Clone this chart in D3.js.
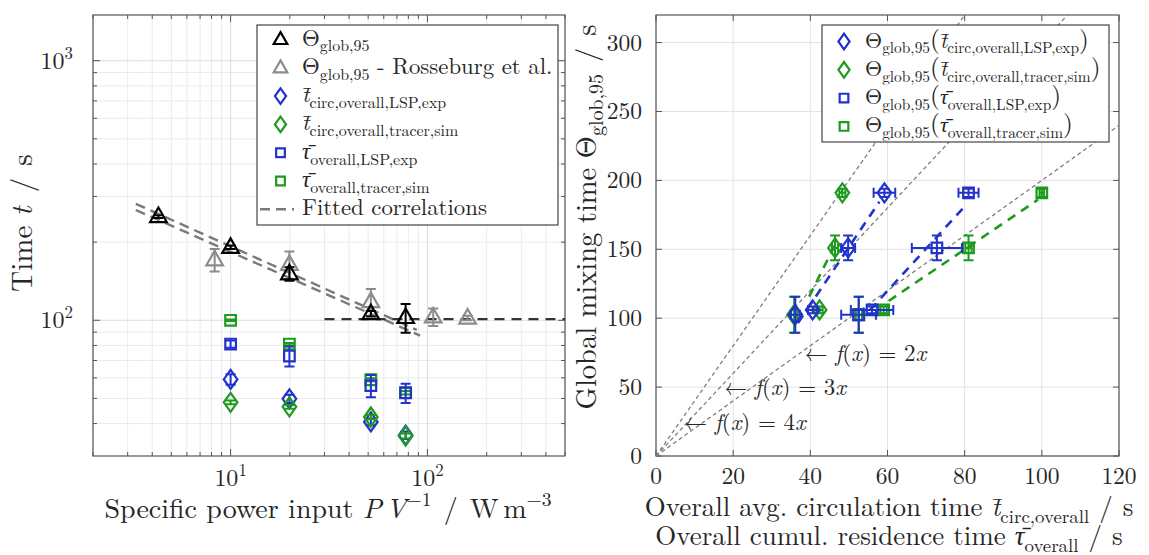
<!DOCTYPE html>
<html>
<head>
<meta charset="utf-8">
<script src="https://cdn.jsdelivr.net/npm/d3@7"></script>
<style>
  body { margin: 0; background: #fff; }
  svg text { font-family: "Latin Modern Roman", "Liberation Serif", serif; fill: #262626; }
</style>
</head>
<body>
<svg id="chart" width="1149" height="555"></svg>
<script>
// ---- data ----
// left panel: mixing / circulation / residence times vs specific power input
var powerInput = [4.3, 10, 19.9, 51.6, 77.5];          // W m^-3
var thetaGlob  = [251, 191, 151, 106, 102.5];          // s
var thetaErr   = [3, 3, 9, 2.5, 13];
var rossPower  = [8.3, 19.9, 51.6, 107, 160];
var rossTheta  = [171, 164, 118, 103, 102];
var rossErr    = [17, 20, 14, 8, 2];
// the following have no value at the first power input
var tCircLSP      = [null, 59.2, 49.8, 40.6, 36.1];
var tCircLSPErr   = [null, 2.8, 1.8, 1.2, 1.2];
var tCircTracer   = [null, 48.3, 46.4, 42.4, 35.8];
var tCircTracerErr= [null, 0.8, 0.8, 0.8, 0.8];
var tauLSP        = [null, 81, 72.8, 56, 52.5];
var tauLSPErr     = [null, 2.6, 6.5, 5.5, 4.5];
var tauTracer     = [null, 100, 81, 59, 52.6];
var tauTracerErr  = [null, 0.6, 0.8, 0.8, 0.8];

// fitted correlations, left panel (end points, straight in log-log)
var fitUpperP = [3.3, 88.3],  fitUpperT = [281, 91.8];
var fitLowerP = [3.3, 91.8],  fitLowerT = [266, 87.3];
var plateauP  = [30, 500],    plateauT  = [101, 101];

// right panel: fitted dashed lines (end points)
var fitTcLSP      = [[36.8, 96.5], [57.9, 184.5]];
var fitTcTracer   = [[39.7, 115.7], [46.6, 154.3]];
var fitTauLSP     = [[55.5, 106], [80.3, 182]];
var fitTauTracer  = [[60.3, 112.5], [99, 186]];
var refSlopes     = [2, 3, 4];
var refLabelY     = [75, 50, 25];

// ticks
var xTicksL = [10, 100];
var yTicksL = [100, 1000];
var xTicksR = [0, 20, 40, 60, 80, 100, 120];
var yTicksR = [0, 50, 100, 150, 200, 250, 300];

// ---- set-up ----
var svg = d3.select('#chart');
svg.append('rect').attr('width', 1149).attr('height', 555).attr('fill', '#fff');

var blue = '#2233cc', green = '#1e9a1e', gray = '#8c8c8c', black = '#000';
var axisCol = '#555';
var TBAR = 't\u0304', TAUBAR = '\u03C4\u0304';

var L = {x0: 93, x1: 565, y0: 15, y1: 456};
var R = {x0: 656, x1: 1119, y0: 15, y1: 456};

var xL = d3.scaleLog().domain([2, 500]).range([L.x0, L.x1]);
var yL = d3.scaleLog().domain([30, 1500]).range([L.y1, L.y0]);
var xR = d3.scaleLinear().domain([0, 120]).range([R.x0, R.x1]);
var yR = d3.scaleLinear().domain([0, 320]).range([R.y1, R.y0]);

// rich text: parts with italic / sub / sup
function rich(sel, parts, fs) {
  var shift = 0;
  parts.forEach(function(p) {
    var target = p.sub ? 0.26 * fs : (p.sup ? -0.42 * fs : 0);
    var ts = sel.append('tspan').text(p.t).attr('dy', target - shift);
    shift = target;
    if (p.sub || p.sup) ts.attr('font-size', 0.7 * fs);
    if (p.i) ts.attr('font-style', 'italic');
    if (p.big) ts.attr('font-size', p.big * fs);
    if (p.dx) ts.attr('dx', p.dx);
  });
  return sel;
}

function markerPath(type, cx, cy, s) {
  if (type === 'tri')
    return 'M' + cx + ',' + (cy - 9 * s) + 'L' + (cx + 8.3 * s) + ',' + (cy + 5.5 * s) +
           'L' + (cx - 8.3 * s) + ',' + (cy + 5.5 * s) + 'Z';
  if (type === 'dia')
    return 'M' + cx + ',' + (cy - 9.5 * s) + 'L' + (cx + 6.8 * s) + ',' + cy +
           'L' + cx + ',' + (cy + 9.5 * s) + 'L' + (cx - 6.8 * s) + ',' + cy + 'Z';
  return 'M' + (cx - 5.3 * s) + ',' + (cy - 5.3 * s) + 'h' + (10.6 * s) + 'v' + (10.6 * s) +
         'h' + (-10.6 * s) + 'Z';
}

// ---- left panel ----
var gl = svg.append('g');
var minorX = [], minorY = [];
[1, 10, 100].forEach(function(d) {
  for (var k = 2; k <= 9; k++) {
    var v = k * d;
    if (v >= 2 && v <= 500) minorX.push(v);
  }
});
[10, 100, 1000].forEach(function(d) {
  for (var k = 2; k <= 9; k++) {
    var v = k * d;
    if (v > 30 && v < 1500) minorY.push(v);
  }
});

gl.selectAll('.gxm').data(minorX).enter().append('line')
  .attr('x1', xL).attr('x2', xL).attr('y1', L.y0).attr('y2', L.y1)
  .attr('stroke', '#ebebeb').attr('stroke-width', 1);
gl.selectAll('.gym').data(minorY).enter().append('line')
  .attr('y1', yL).attr('y2', yL).attr('x1', L.x0).attr('x2', L.x1)
  .attr('stroke', '#ebebeb').attr('stroke-width', 1);
gl.selectAll('.gx').data(xTicksL).enter().append('line')
  .attr('x1', xL).attr('x2', xL).attr('y1', L.y0).attr('y2', L.y1)
  .attr('stroke', '#dcdcdc').attr('stroke-width', 1);
gl.selectAll('.gy').data(yTicksL).enter().append('line')
  .attr('y1', yL).attr('y2', yL).attr('x1', L.x0).attr('x2', L.x1)
  .attr('stroke', '#dcdcdc').attr('stroke-width', 1);

// inward ticks on all four sides
function ticksLog(g, vals, len) {
  vals.forEach(function(v) {
    var x = xL(v);
    g.append('line').attr('x1', x).attr('x2', x).attr('y1', L.y1).attr('y2', L.y1 - len).attr('stroke', axisCol);
    g.append('line').attr('x1', x).attr('x2', x).attr('y1', L.y0).attr('y2', L.y0 + len).attr('stroke', axisCol);
  });
}
function ticksLogY(g, vals, len) {
  vals.forEach(function(v) {
    var y = yL(v);
    g.append('line').attr('y1', y).attr('y2', y).attr('x1', L.x0).attr('x2', L.x0 + len).attr('stroke', axisCol);
    g.append('line').attr('y1', y).attr('y2', y).attr('x1', L.x1).attr('x2', L.x1 - len).attr('stroke', axisCol);
  });
}
ticksLog(gl, minorX, 4); ticksLog(gl, xTicksL, 7);
ticksLogY(gl, minorY, 4); ticksLogY(gl, yTicksL, 7);

gl.append('rect').attr('x', L.x0).attr('y', L.y0).attr('width', L.x1 - L.x0).attr('height', L.y1 - L.y0)
  .attr('fill', 'none').attr('stroke', axisCol).attr('stroke-width', 1.2);

xTicksL.forEach(function(v) {
  rich(gl.append('text').attr('x', xL(v)).attr('y', 486).attr('text-anchor', 'middle').attr('font-size', 24),
       [{t: '10'}, {t: String(Math.round(Math.log10(v))), sup: 1}], 24);
});
yTicksL.forEach(function(v) {
  rich(gl.append('text').attr('x', 73).attr('y', yL(v) + 8).attr('text-anchor', 'end').attr('font-size', 24),
       [{t: '10'}, {t: String(Math.round(Math.log10(v))), sup: 1}], 24);
});

// fitted correlations
var lineL = d3.line().x(function(d) { return xL(d[0]); }).y(function(d) { return yL(d[1]); });
[[fitUpperP, fitUpperT], [fitLowerP, fitLowerT]].forEach(function(f) {
  gl.append('path').attr('d', lineL(d3.zip(f[0], f[1])))
    .attr('fill', 'none').attr('stroke', '#7a7a7a').attr('stroke-width', 2.4).attr('stroke-dasharray', '10,6');
});
gl.append('path').attr('d', lineL(d3.zip(plateauP, plateauT)))
  .attr('fill', 'none').attr('stroke', '#333').attr('stroke-width', 2.2).attr('stroke-dasharray', '10,7');

function seriesL(px, vals, errs, type, color) {
  var g = gl.append('g');
  vals.forEach(function(v, i) {
    if (v == null) return;
    var x = xL(px[i]), y = yL(v), e = errs[i];
    var ya = yL(v - e), yb = yL(v + e);
    g.append('path').attr('d', 'M' + x + ',' + ya + 'V' + yb + 'M' + (x - 5) + ',' + ya + 'h10M' + (x - 5) + ',' + yb + 'h10')
      .attr('stroke', color).attr('stroke-width', 2).attr('fill', 'none');
    g.append('path').attr('d', markerPath(type, x, y, 1))
      .attr('fill', 'none').attr('stroke', color).attr('stroke-width', 2.2);
  });
}
seriesL(powerInput, tauTracer, tauTracerErr, 'sq', green);
seriesL(powerInput, tauLSP, tauLSPErr, 'sq', blue);
seriesL(powerInput, tCircLSP, tCircLSPErr, 'dia', blue);
seriesL(powerInput, tCircTracer, tCircTracerErr, 'dia', green);
seriesL(rossPower, rossTheta, rossErr, 'tri', gray);
seriesL(powerInput, thetaGlob, thetaErr, 'tri', black);

// axis labels
rich(gl.append('text').attr('x', 328).attr('y', 518).attr('text-anchor', 'middle').attr('font-size', 28),
     [{t: 'Specific power input '}, {t: 'P', i: 1}, {t: 'V', i: 1, dx: 4}, {t: '\u22121', sup: 1},
      {t: '/', dx: 12}, {t: 'W', dx: 12}, {t: 'm', dx: 7}, {t: '\u22123', sup: 1}], 28);
rich(gl.append('text').attr('transform', 'translate(32,223) rotate(-90)').attr('text-anchor', 'middle').attr('font-size', 29),
     [{t: 'Time '}, {t: 't', i: 1}, {t: '/', dx: 14}, {t: 's', dx: 12}], 29);

// left legend
var legL = [
  {type: 'tri', color: black, label: [{t: '\u0398'}, {t: 'glob,95', sub: 1}]},
  {type: 'tri', color: gray, label: [{t: '\u0398'}, {t: 'glob,95', sub: 1}, {t: ' - Rosseburg et al.'}]},
  {type: 'dia', color: blue, label: [{t: TBAR, i: 1}, {t: 'circ,overall,LSP,exp', sub: 1}]},
  {type: 'dia', color: green, label: [{t: TBAR, i: 1}, {t: 'circ,overall,tracer,sim', sub: 1}]},
  {type: 'sq', color: blue, label: [{t: TAUBAR, i: 1}, {t: 'overall,LSP,exp', sub: 1}]},
  {type: 'sq', color: green, label: [{t: TAUBAR, i: 1}, {t: 'overall,tracer,sim', sub: 1}]},
  {type: 'dash', color: '#7a7a7a', label: [{t: 'Fitted correlations'}]}
];
var lg = svg.append('g');
lg.append('rect').attr('x', 257).attr('y', 25).attr('width', 301).attr('height', 200)
  .attr('fill', '#fff').attr('stroke', '#444').attr('stroke-width', 1.2);
legL.forEach(function(d, i) {
  var cy = 39.5 + i * 28.3;
  if (d.type === 'dash') {
    lg.append('line').attr('x1', 260).attr('x2', 294).attr('y1', cy).attr('y2', cy)
      .attr('stroke', d.color).attr('stroke-width', 2.4).attr('stroke-dasharray', '10,6');
  } else {
    lg.append('path').attr('d', markerPath(d.type, 280.5, cy, 0.82))
      .attr('fill', 'none').attr('stroke', d.color).attr('stroke-width', 2.2);
  }
  rich(lg.append('text').attr('x', 302).attr('y', cy + 6).attr('font-size', 22.8), d.label, 22.8);
});

// ---- right panel ----
var gr = svg.append('g');
gr.selectAll('.gx').data(xTicksR).enter().append('line')
  .attr('x1', xR).attr('x2', xR).attr('y1', R.y0).attr('y2', R.y1)
  .attr('stroke', '#e3e3e3').attr('stroke-width', 1);
gr.selectAll('.gy').data(yTicksR).enter().append('line')
  .attr('y1', yR).attr('y2', yR).attr('x1', R.x0).attr('x2', R.x1)
  .attr('stroke', '#e3e3e3').attr('stroke-width', 1);
xTicksR.forEach(function(v) {
  var x = xR(v);
  gr.append('line').attr('x1', x).attr('x2', x).attr('y1', R.y1).attr('y2', R.y1 - 6).attr('stroke', axisCol);
  gr.append('line').attr('x1', x).attr('x2', x).attr('y1', R.y0).attr('y2', R.y0 + 6).attr('stroke', axisCol);
  gr.append('text').attr('x', x).attr('y', 484).attr('text-anchor', 'middle').attr('font-size', 23.5).text(v);
});
yTicksR.forEach(function(v) {
  var y = yR(v);
  gr.append('line').attr('y1', y).attr('y2', y).attr('x1', R.x0).attr('x2', R.x0 + 6).attr('stroke', axisCol);
  gr.append('line').attr('y1', y).attr('y2', y).attr('x1', R.x1).attr('x2', R.x1 - 6).attr('stroke', axisCol);
  gr.append('text').attr('x', 642).attr('y', y + 8).attr('text-anchor', 'end').attr('font-size', 23.5).text(v);
});
gr.append('rect').attr('x', R.x0).attr('y', R.y0).attr('width', R.x1 - R.x0).attr('height', R.y1 - R.y0)
  .attr('fill', 'none').attr('stroke', axisCol).attr('stroke-width', 1.2);

// reference lines f(x) = k x
var lineR = d3.line().x(function(d) { return xR(d[0]); }).y(function(d) { return yR(d[1]); });
refSlopes.forEach(function(k, i) {
  var xe = Math.min(120, 320 / k);
  gr.append('path').attr('d', lineR([[0, 0], [xe, k * xe]]))
    .attr('fill', 'none').attr('stroke', '#7f7f7f').attr('stroke-width', 1.3).attr('stroke-dasharray', '4,3');
  var ly = refLabelY[i];
  rich(gr.append('text').attr('x', xR(ly / k + 1)).attr('y', yR(ly) + 8).attr('font-size', 23),
       [{t: '\u2190 '}, {t: 'f', i: 1}, {t: '('}, {t: 'x', i: 1}, {t: ') = ' + k}, {t: 'x', i: 1}], 23);
});

// fitted dashed lines
[[fitTcLSP, blue], [fitTcTracer, green], [fitTauLSP, blue], [fitTauTracer, green]].forEach(function(f) {
  gr.append('path').attr('d', lineR(f[0])).attr('fill', 'none').attr('stroke', f[1])
    .attr('stroke-width', 2.6).attr('stroke-dasharray', '9,7');
});

function seriesR(xs, xe, type, color) {
  var g = gr.append('g');
  xs.forEach(function(v, i) {
    if (v == null) return;
    var t = thetaGlob[i], te = thetaErr[i];
    var x = xR(v), y = yR(t);
    var ya = yR(t - te), yb = yR(t + te), xa = xR(v - xe[i]), xb = xR(v + xe[i]);
    g.append('path').attr('d',
        'M' + x + ',' + ya + 'V' + yb + 'M' + (x - 5) + ',' + ya + 'h10M' + (x - 5) + ',' + yb + 'h10' +
        'M' + xa + ',' + y + 'H' + xb + 'M' + xa + ',' + (y - 5) + 'v10M' + xb + ',' + (y - 5) + 'v10')
      .attr('stroke', color).attr('stroke-width', 2).attr('fill', 'none');
    g.append('path').attr('d', markerPath(type, x, y, 1))
      .attr('fill', 'none').attr('stroke', color).attr('stroke-width', 2.2);
  });
}
seriesR(tauTracer, tauTracerErr, 'sq', green);
seriesR(tauLSP, tauLSPErr, 'sq', blue);
seriesR(tCircTracer, tCircTracerErr, 'dia', green);
seriesR(tCircLSP, tCircLSPErr, 'dia', blue);

// axis labels
rich(gr.append('text').attr('x', 889).attr('y', 516).attr('text-anchor', 'middle').attr('font-size', 27),
     [{t: 'Overall avg. circulation time '}, {t: TBAR, i: 1}, {t: 'circ,overall', sub: 1}, {t: '/', dx: 10}, {t: 's', dx: 10}], 27);
rich(gr.append('text').attr('x', 889).attr('y', 545).attr('text-anchor', 'middle').attr('font-size', 27),
     [{t: 'Overall cumul. residence time '}, {t: TAUBAR, i: 1}, {t: 'overall', sub: 1}, {t: '/', dx: 10}, {t: 's', dx: 10}], 27);
rich(gr.append('text').attr('transform', 'translate(596,217) rotate(-90)').attr('text-anchor', 'middle').attr('font-size', 28.5),
     [{t: 'Global mixing time \u0398'}, {t: 'glob,95', sub: 1}, {t: '/', dx: 12}, {t: 's', dx: 12}], 28.5);

// right legend
var legR = [
  {type: 'dia', color: blue, sub: 'circ,overall,LSP,exp', sym: TBAR},
  {type: 'dia', color: green, sub: 'circ,overall,tracer,sim', sym: TBAR},
  {type: 'sq', color: blue, sub: 'overall,LSP,exp', sym: TAUBAR},
  {type: 'sq', color: green, sub: 'overall,tracer,sim', sym: TAUBAR}
];
var rg = svg.append('g');
rg.append('rect').attr('x', 822).attr('y', 25).attr('width', 287).attr('height', 117)
  .attr('fill', '#fff').attr('stroke', '#444').attr('stroke-width', 1.2);
legR.forEach(function(d, i) {
  var cy = 41.5 + i * 28.3;
  rg.append('path').attr('d', markerPath(d.type, 844, cy, 0.82))
    .attr('fill', 'none').attr('stroke', d.color).attr('stroke-width', 2.2);
  rich(rg.append('text').attr('x', 865).attr('y', cy + 6).attr('font-size', 22),
       [{t: '\u0398'}, {t: 'glob,95', sub: 1}, {t: '(', big: 1.15}, {t: d.sym, i: 1}, {t: d.sub, sub: 1}, {t: ')', big: 1.15}], 22);
});
</script>
</body>
</html>
